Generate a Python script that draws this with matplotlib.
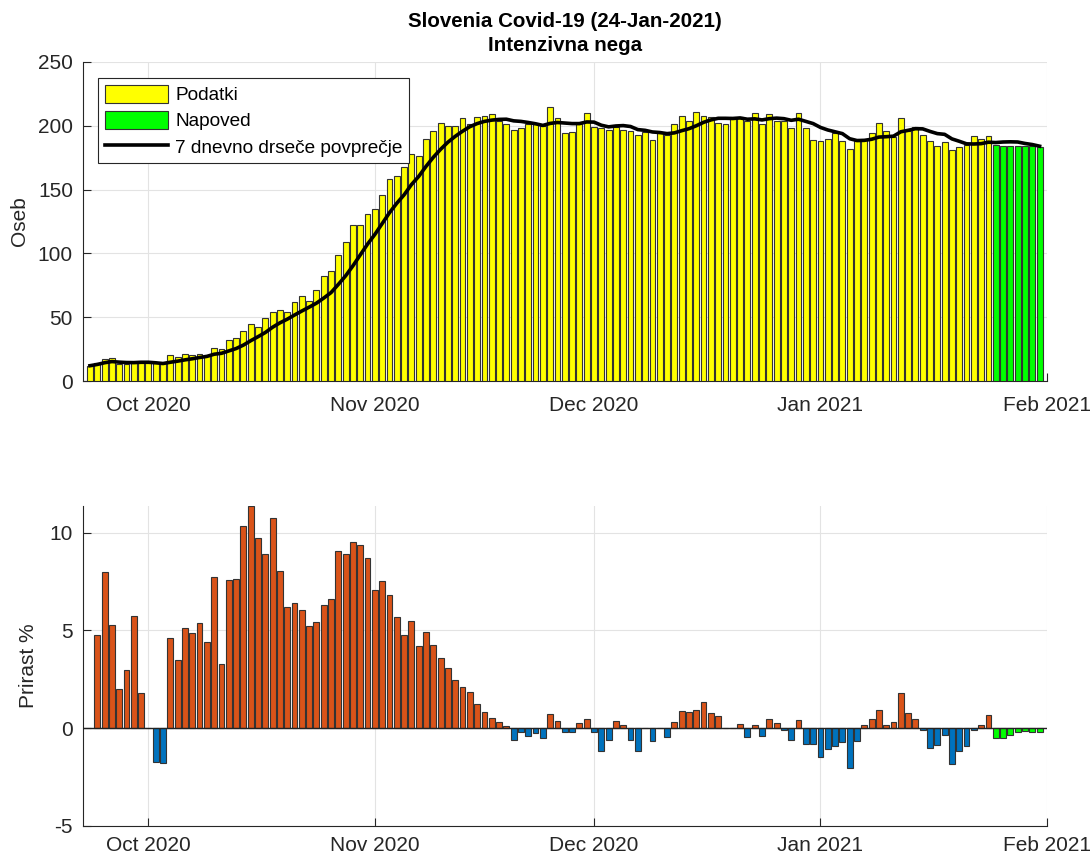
import numpy as np
import pandas as pd
import matplotlib
matplotlib.use('Agg')
import matplotlib.pyplot as plt
import matplotlib.dates as mdates
from matplotlib.patches import Patch
from matplotlib.lines import Line2D

plt.rcParams['font.family'] = ['Liberation Sans', 'DejaVu Sans']
plt.rcParams['axes.unicode_minus'] = False

# ICU patients, 23-Sep-2020 .. 24-Jan-2021
data_start = '2020-09-23'
icu = [12, 14, 17, 18, 13, 13, 14, 14,
       14, 14, 14, 20, 19, 21, 20, 21, 20, 26, 25, 32, 34, 39, 45, 42, 49, 54,
       56, 54, 62, 67, 63, 71, 82, 86, 99, 109, 122, 122, 131,
       135, 146, 158, 161, 168, 178, 176, 190, 196, 202, 200, 200, 206, 201, 207,
       208, 209, 204, 201, 197, 198, 201, 201, 200, 215, 206, 194, 195, 201, 210,
       199, 198, 197, 199, 197, 196, 193, 195, 189, 194, 193, 201, 208, 204, 211,
       208, 207, 202, 201, 207, 207, 204, 210, 201, 209, 204, 204, 198, 210, 198, 189,
       188, 190, 194, 188, 182, 188, 190, 194, 202, 196, 191, 206, 196, 199, 193,
       188, 184, 187, 181, 183, 185, 192, 190, 192]
# forecast 25-Jan .. 31-Jan
icu_forecast = [185, 184, 184, 184, 184, 184, 183]

# daily growth %, 24-Sep-2020 .. 24-Jan-2021
growth_start = '2020-09-24'
growth = [4.77, 7.99, 5.28, 2.01, 2.95, 5.74, 1.82,
          0, -1.75, -1.79, 4.6, 3.51, 5.11, 4.86, 5.4, 4.4, 7.72, 3.27, 7.56, 7.61,
          10.36, 11.36, 9.74, 8.89, 10.77, 8.04, 6.22, 6.42, 6.05, 5.2, 5.42, 6.3,
          6.61, 9.06, 8.89, 9.54, 9.34, 8.69,
          7.07, 7.5, 6.83, 5.66, 4.74, 5.5, 4.21, 4.91, 4.26, 3.59, 3.07, 2.45, 2.1,
          1.84, 1.24, 0.85, 0.51, 0.34, 0.09, -0.6, -0.17, -0.39, -0.26, -0.48, 0.73,
          0.37, -0.2, -0.2, 0.29, 0.46,
          -0.2, -1.18, -0.61, 0.37, 0.15, -0.61, -1.19, 0, -0.65, 0, -0.43, 0.3, 0.9,
          0.82, 0.95, 1.36, 0.77, 0.63, 0, 0, 0.22, -0.46, 0.17, -0.39, 0.49, 0.29,
          -0.09, -0.61, 0.43, -0.82, -0.82,
          -1.47, -1.06, -0.9, -0.72, -2.04, -0.68, 0.17, 0.46, 0.92, 0.17, 0.31, 1.82,
          0.77, 0.46, -0.09, -0.99, -0.85, -0.34, -1.83, -1.16, -0.89, -0.09, 0.17, 0.65]
growth_forecast = [-0.51, -0.51, -0.36, -0.2, -0.12, -0.17, -0.17]

month_ticks = ['2020-10-01', '2020-11-01', '2020-12-01', '2021-01-01', '2021-02-01']
x_range = ['2020-09-22', '2021-02-01']

title = 'Slovenia Covid-19 (24-Jan-2021)\nIntenzivna nega'
legend_labels = ['Podatki', 'Napoved', '7 dnevno drseče povprečje']

dates = pd.date_range(data_start, periods=len(icu))
fc_dates = pd.date_range(dates[-1] + pd.Timedelta(days=1), periods=len(icu_forecast))
all_dates = dates.append(fc_dates)
avg7 = pd.Series(icu + icu_forecast).rolling(7, min_periods=1).mean()

g_dates = pd.date_range(growth_start, periods=len(growth))
g_fc_dates = pd.date_range(g_dates[-1] + pd.Timedelta(days=1), periods=len(growth_forecast))
growth = np.array(growth)

dark = '#262626'
edge = '#333333'
yellow = '#ffff00'
green = '#00ff00'
orange = '#d95319'
blue = '#0072bd'

fig = plt.figure(figsize=(10.92, 8.57), dpi=100)
ax1 = fig.add_axes([0.0757, 0.5554, 0.883, 0.3723])
ax2 = fig.add_axes([0.0757, 0.0362, 0.883, 0.3734])

xlim = [pd.Timestamp(d) for d in x_range]
ticks = [pd.Timestamp(d) for d in month_ticks]

# top chart
ax1.bar(dates, icu, width=0.8, color=yellow, edgecolor=edge, linewidth=0.8, zorder=3)
ax1.bar(fc_dates, icu_forecast, width=0.8, color=green, edgecolor=edge, linewidth=0.8, zorder=3)
ax1.plot(all_dates, avg7, color='black', linewidth=2.6, zorder=4)
ax1.set_ylim(0, 250)
ax1.set_yticks(range(0, 251, 50))
ax1.set_ylabel('Oseb', fontsize=15, color=dark, labelpad=6)
ax1.set_title(title, fontsize=14.8, fontweight='bold', color='black', pad=8, linespacing=1.3)

handles = [Patch(facecolor=yellow, edgecolor=edge, linewidth=0.8),
           Patch(facecolor=green, edgecolor=edge, linewidth=0.8),
           Line2D([], [], color='black', linewidth=2.6)]
leg = ax1.legend(handles, legend_labels, loc='upper left', fontsize=13.7,
                 bbox_to_anchor=(0.016, 0.95), fancybox=False, framealpha=1,
                 edgecolor=dark, handlelength=3.3, handleheight=1.1,
                 borderpad=0.35, labelspacing=0.35, handletextpad=0.4,
                 borderaxespad=0)
leg.get_frame().set_linewidth(0.8)

# bottom chart
g_colors = [orange if v > 0 else blue for v in growth]
ax2.bar(g_dates, growth, width=0.8, color=g_colors, edgecolor=edge, linewidth=0.8, zorder=3)
ax2.bar(g_fc_dates, growth_forecast, width=0.8, color=green, edgecolor=edge, linewidth=0.8, zorder=3)
ax2.axhline(0, color='#222222', linewidth=1.0, zorder=4)
ax2.set_ylim(-5, max(growth.max(), max(growth_forecast)))
ax2.set_yticks([-5, 0, 5, 10])
ax2.set_ylabel('Prirast %', fontsize=15, color=dark, labelpad=8)

for ax in (ax1, ax2):
    ax.set_xlim(xlim)
    ax.set_xticks(ticks)
    ax.xaxis.set_major_formatter(mdates.DateFormatter('%b %Y'))
    ax.grid(True, color='#e3e3e3', linewidth=0.8, zorder=0)
    ax.set_axisbelow(True)
    ax.tick_params(direction='in', length=6, width=0.8, colors=dark,
                   labelsize=15)
    ax.tick_params(axis='y', pad=7)
    for s in ('top', 'right'):
        ax.spines[s].set_visible(False)
    for s in ('left', 'bottom'):
        ax.spines[s].set_color(dark)
        ax.spines[s].set_linewidth(0.8)

ax1.tick_params(axis='x', pad=11)
ax2.tick_params(axis='x', pad=7)

fig.savefig('out.png', dpi=100)
